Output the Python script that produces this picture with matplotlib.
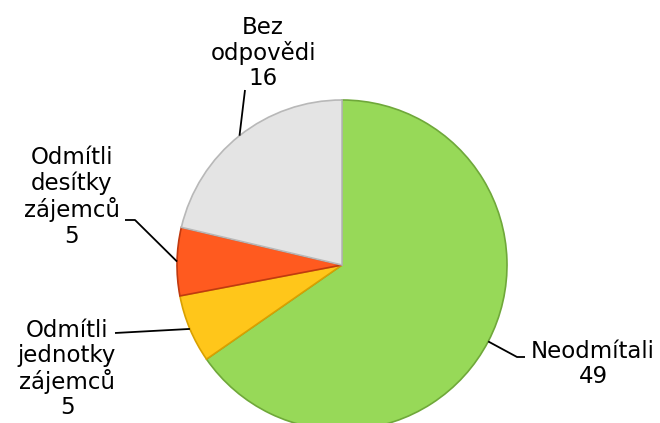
import numpy as np
import matplotlib.pyplot as plt

# data
labels = ['Neodmítali', 'Odmítli\njednotky\nzájemců', 'Odmítli\ndesítky\nzájemců', 'Bez\nodpovědi']
values = [49, 5, 5, 16]
colors = ['#97D958', '#FFC61A', '#FF5A1F', '#E4E4E4']
edges = ['#6FA83A', '#D9A000', '#C03A10', '#B8B8B8']

fig = plt.figure(figsize=(6.6, 4.23), dpi=100)
ax = fig.add_axes([0, 0, 1, 1])

cx, cy, r = 342, 158, 165
wedges, _ = ax.pie(values, colors=colors, startangle=90, counterclock=False,
                   center=(cx, cy), radius=r, frame=True,
                   wedgeprops=dict(linewidth=1.2))
for w, ec in zip(wedges, edges):
    w.set_edgecolor(ec)
ax.set_xlim(0, 660)
ax.set_ylim(0, 423)
ax.set_aspect('equal')
ax.axis('off')

# label layout: text center, elbow point
text_pos = [(593, 59), (67, 54), (72, 226), (263, 370)]
elbow = [(517, 66), (115, 90), (135, 203), (245, 333)]
elbow_end = [(525, 66), (115, 90), (125, 203), (245, 333)]

for w, lab, v, tp, el, ee in zip(wedges, labels, values, text_pos, elbow, elbow_end):
    ang = np.deg2rad((w.theta1 + w.theta2) / 2)
    ax0 = cx + r * np.cos(ang)
    ay0 = cy + r * np.sin(ang)
    ax.plot([ax0, el[0], ee[0]], [ay0, el[1], ee[1]], color='black', lw=1.3,
            solid_capstyle='butt')
    ax.text(tp[0], tp[1], f'{lab}\n{v}', ha='center', va='center', fontsize=16.5,
            linespacing=1.12, color='black', family='DejaVu Sans')

fig.savefig('out.png', dpi=100)
